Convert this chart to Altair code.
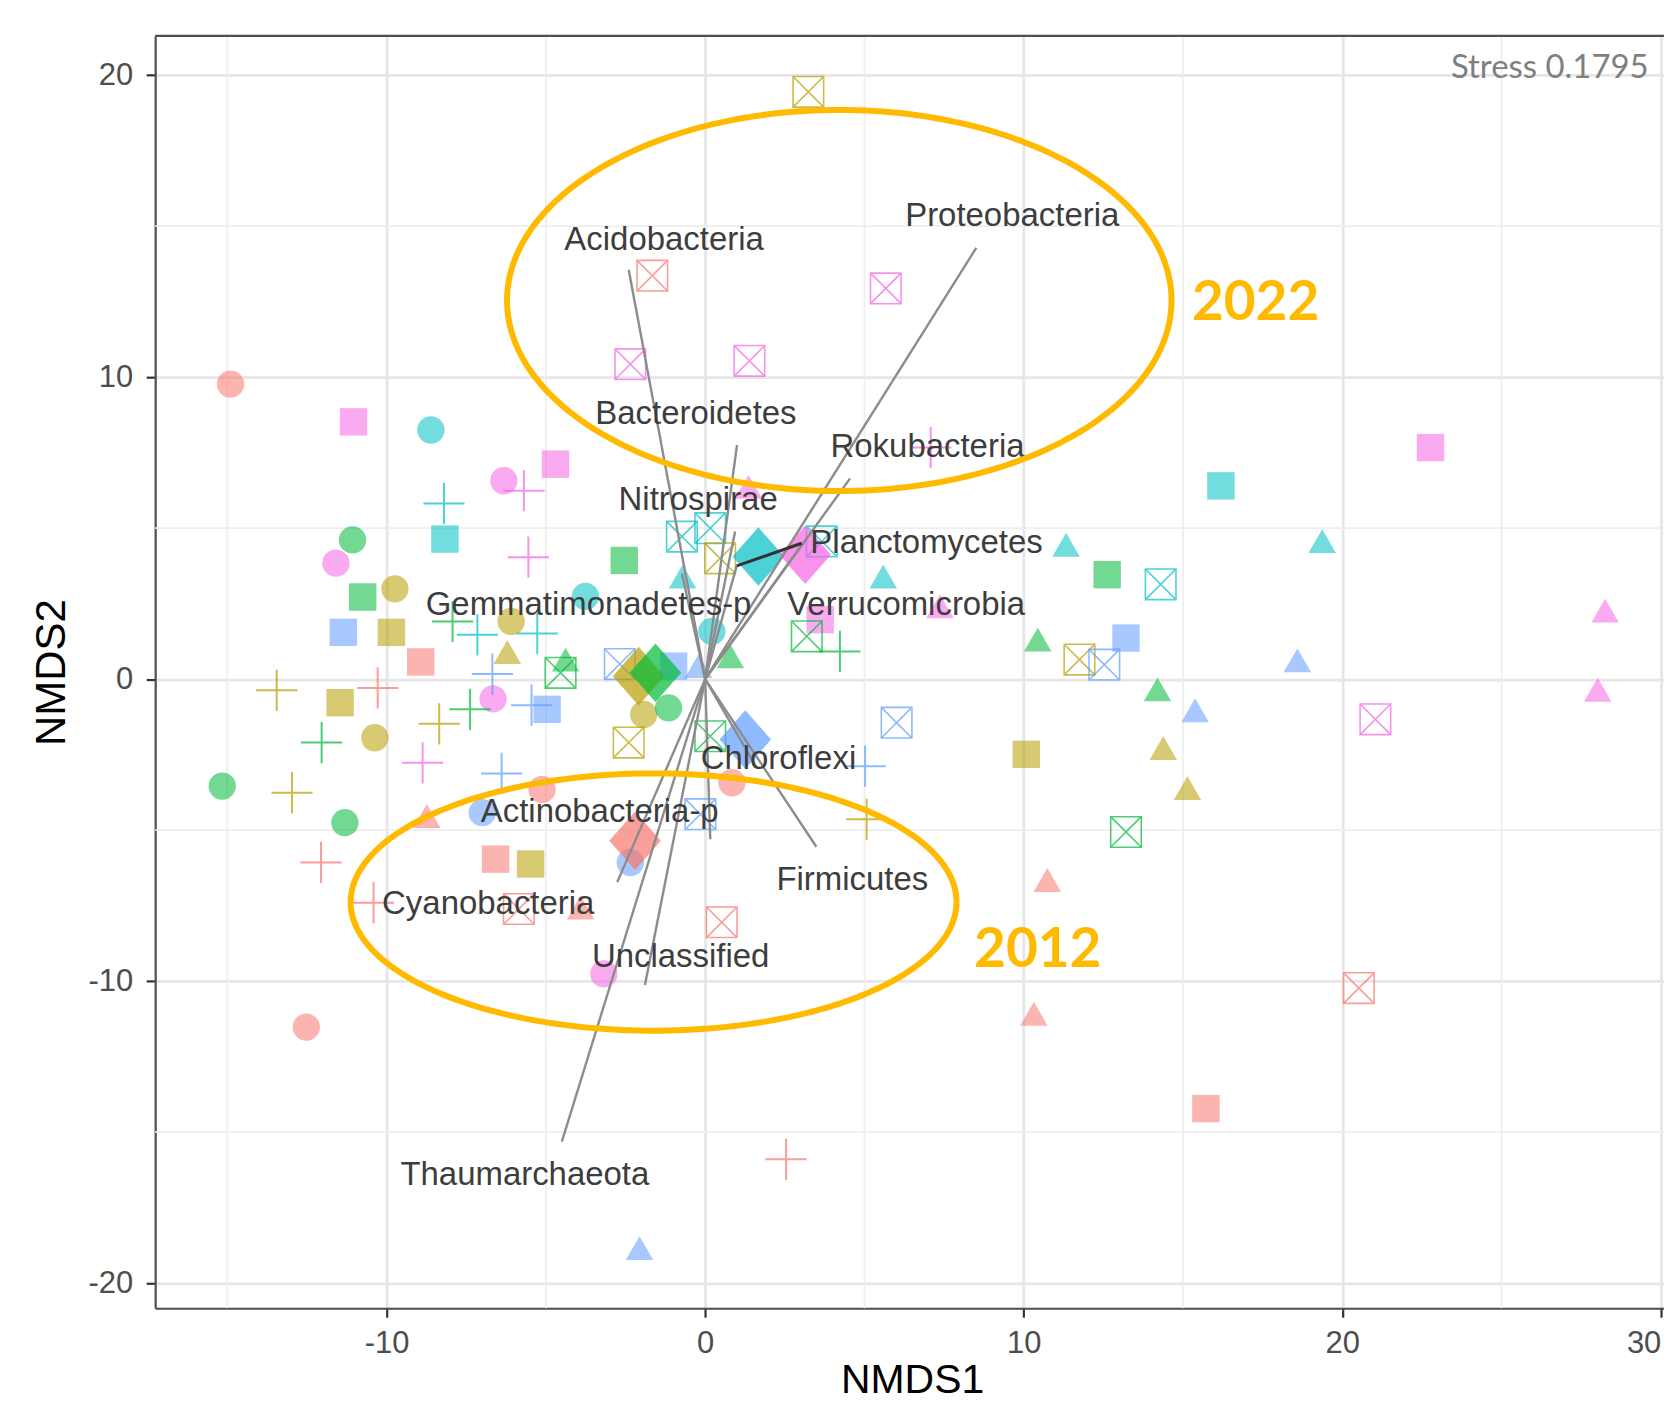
import numpy as np
import pandas as pd
import altair as alt

# ---------------- axes ----------------
X_DOMAIN = [-17.265, 30.10]
Y_DOMAIN = [-20.83, 21.30]
X_MAJOR = [-10, 0, 10, 20, 30]
Y_MAJOR = [-20, -10, 0, 10, 20]
X_MINOR = [-15, -5, 5, 15, 25]
Y_MINOR = [-15, -5, 5, 15]

# ---------------- groups (colour) ----------------
SITES = ["S1", "S2", "S3", "S4", "S5", "S6"]
SITE_COLORS = ["#F8766D", "#B79F00", "#00BA38", "#00BFC4", "#619CFF", "#F564E3"]

# ---------------- sample points by shape ----------------
CIRCLE_X = [-14.9, -8.61, -6.32, -11.07, -11.59, -9.74, -3.76, -6.09, -6.66, -10.37, -15.16,
            -5.12, -11.31, -7.0, -1.93, -1.15, 0.21, 0.84, -2.35, -3.18, -12.52]
CIRCLE_Y = [9.77, 8.25, 6.57, 4.61, 3.84, 2.99, 2.74, 1.91, -0.65, -1.94, -3.54,
            -3.65, -4.75, -4.42, -1.17, -0.95, 1.58, -3.43, -6.07, -9.76, -11.52]
CIRCLE_SITE = ["S1", "S4", "S6", "S3", "S6", "S2", "S4", "S2", "S6", "S2", "S3",
               "S1", "S3", "S5", "S2", "S3", "S4", "S1", "S5", "S6", "S1"]

SQUARE_X = [-11.04, -4.70, -8.17, -2.54, -10.75, -11.36, -9.85, -8.93, -11.46, -4.96,
            -6.58, -5.48, -0.99, 3.61, 12.62, 13.21, 10.08, 16.19, 22.77, 15.72]
SQUARE_Y = [8.52, 7.12, 4.64, 3.93, 2.72, 1.55, 1.55, 0.57, -0.78, -1.0,
            -5.96, -6.12, 0.43, 1.97, 3.46, 1.36, -2.49, 6.40, 7.67, -14.22]
SQUARE_SITE = ["S6", "S6", "S4", "S3", "S3", "S5", "S2", "S1", "S2", "S5",
               "S1", "S2", "S5", "S6", "S3", "S5", "S2", "S4", "S6", "S1"]

TRIANGLE_X = [-6.21, -4.38, -8.74, -3.91, -2.06, -0.71, 1.36, 5.59, 0.79, -0.21, 7.37, 11.33,
              10.44, 14.2, 14.38, 15.14, 15.38, 18.59, 19.37, 28.25, 28.02, 10.74, 10.32]
TRIANGLE_Y = [0.9, 0.65, -4.53, -7.56, -18.84, 3.40, 6.37, 3.40, 0.76, 0.43, 2.41, 4.45,
              1.31, -0.34, -2.28, -3.61, -1.03, 0.62, 4.57, 2.27, -0.35, -6.65, -11.08]
TRIANGLE_SITE = ["S2", "S3", "S1", "S1", "S5", "S4", "S6", "S4", "S3", "S5", "S6", "S4",
                 "S3", "S3", "S2", "S2", "S5", "S5", "S4", "S6", "S6", "S1", "S1"]

PLUS_X = [-8.20, -5.69, -5.55, -7.93, -7.15, -5.27, -6.68, -13.45, -10.28, -7.38, -5.45, -8.35,
          -12.04, -8.87, -6.39, -12.97, -12.06, -10.41, 7.08, 4.23, 5.02, 5.07, 2.54]
PLUS_Y = [5.82, 6.24, 4.04, 1.91, 1.47, 1.51, 0.17, -0.37, -0.29, -1.0, -0.86, -1.48,
          -2.1, -2.77, -3.12, -3.76, -6.07, -7.4, 7.67, 0.92, -2.88, -4.64, -15.9]
PLUS_SITE = ["S4", "S6", "S6", "S3", "S4", "S4", "S5", "S2", "S1", "S3", "S5", "S2",
             "S3", "S6", "S5", "S2", "S1", "S1", "S6", "S3", "S5", "S2", "S1"]

BOXX_X = [3.24, -1.66, 5.67, -2.35, 1.39, -0.73, 0.16, 0.47, 3.66, 3.19, 14.3, 11.75,
          12.53, -4.54, -2.68, -2.4, 0.16, 6.01, -0.15, 13.21, 21.04, -5.85, 0.52, 20.52]
BOXX_Y = [19.45, 13.36, 12.94, 10.43, 10.54, 4.72, 5.0, 4.0, 4.56, 1.42, 3.14, 0.65,
          0.48, 0.21, 0.5, -2.1, -1.89, -1.44, -4.47, -5.06, -1.33, -7.61, -8.05, -10.23]
BOXX_SITE = ["S2", "S1", "S6", "S6", "S6", "S4", "S4", "S2", "S4", "S3", "S4", "S2",
             "S5", "S3", "S5", "S2", "S3", "S5", "S5", "S3", "S6", "S1", "S1", "S1"]

# group centroids
CENTROID_X = [-2.2, -2.09, -1.56, 1.67, 1.26, 3.14]
CENTROID_Y = [-5.35, 0.1, 0.21, 4.06, -2.0, 4.12]
CENTROID_SITE = ["S1", "S2", "S3", "S4", "S5", "S6"]

# ---------------- fitted phyla vectors ----------------
VECTOR_NAMES = ["Acidobacteria", "Proteobacteria", "Bacteroidetes", "Rokubacteria", "Nitrospirae",
                "Planctomycetes", "Gemmatimonadetes-p", "Verrucomicrobia", "Chloroflexi",
                "Firmicutes", "Actinobacteria-p", "Cyanobacteria", "Unclassified", "Thaumarchaeota"]
VECTOR_X = [-2.40, 8.51, 1.00, 4.55, 0.94, 0.99, -0.73, 3.00, 1.60, 3.49, 0.16, -2.76, -1.89, -4.50]
VECTOR_Y = [13.56, 14.28, 7.75, 6.65, 4.89, 3.75, 3.50, 4.40, -2.90, -5.55, -5.30, -6.72, -10.13, -15.31]
LABEL_X = [-1.29, 9.64, -0.29, 6.98, -0.22, 6.95, -3.66, 6.31, 2.30, 4.62, -3.31, -6.81, -0.77, -5.66]
LABEL_Y = [14.54, 15.32, 8.77, 7.68, 5.93, 4.50, 2.46, 2.47, -2.64, -6.65, -4.40, -7.45, -9.21, -16.41]
LEADER_FROM = [0.99, 3.75]
LEADER_TO = [3.03, 4.50]

# ---------------- annotations ----------------
STRESS_TEXT = "Stress 0.1795"
STRESS_POS = [29.62, 19.91]
YEAR_TEXT = ["2022", "2012"]
YEAR_X = [17.28, 10.44]
YEAR_Y = [12.44, -8.97]
ELLIPSE_NAME = ["2022", "2012"]
ELLIPSE_CX = [4.21, -1.62]
ELLIPSE_CY = [12.54, -7.38]
ELLIPSE_RX = [10.43, 9.51]
ELLIPSE_RY = [6.31, 4.26]
GOLD = "#FFBA00"

# ---------------- data frames ----------------
def shape_df(shape, xs, ys, sites):
    return pd.DataFrame({"x": xs, "y": ys, "site": sites, "shape": shape})

filled = pd.concat([shape_df("circle", CIRCLE_X, CIRCLE_Y, CIRCLE_SITE),
                    shape_df("square", SQUARE_X, SQUARE_Y, SQUARE_SITE),
                    shape_df("triangle", TRIANGLE_X, TRIANGLE_Y, TRIANGLE_SITE)], ignore_index=True)
plus_df = shape_df("plus", PLUS_X, PLUS_Y, PLUS_SITE)
boxx_df = shape_df("boxx", BOXX_X, BOXX_Y, BOXX_SITE)
cent_df = shape_df("diamond", CENTROID_X, CENTROID_Y, CENTROID_SITE)

vec_df = pd.DataFrame({"name": VECTOR_NAMES, "x0": 0.0, "y0": 0.0, "x1": VECTOR_X, "y1": VECTOR_Y})
lab_df = pd.DataFrame({"name": VECTOR_NAMES, "x": LABEL_X, "y": LABEL_Y})
lead_df = pd.DataFrame({"x0": [LEADER_FROM[0]], "y0": [LEADER_FROM[1]],
                        "x1": [LEADER_TO[0]], "y1": [LEADER_TO[1]]})

t = np.linspace(0, 2 * np.pi, 241)
ell_rows = []
for n, cx, cy, rx, ry in zip(ELLIPSE_NAME, ELLIPSE_CX, ELLIPSE_CY, ELLIPSE_RX, ELLIPSE_RY):
    for i, tt in enumerate(t):
        ell_rows.append({"name": n, "i": i, "x": cx + rx * np.cos(tt), "y": cy + ry * np.sin(tt)})
ell_df = pd.DataFrame(ell_rows)
year_df = pd.DataFrame({"text": YEAR_TEXT, "x": YEAR_X, "y": YEAR_Y})
stress_df = pd.DataFrame({"text": [STRESS_TEXT], "x": [STRESS_POS[0]], "y": [STRESS_POS[1]]})
top_df = pd.DataFrame({"y": [Y_DOMAIN[1]]})
xminor_df = pd.DataFrame({"x": X_MINOR})
yminor_df = pd.DataFrame({"y": Y_MINOR})

# ---------------- scales & axes ----------------
xscale = alt.Scale(domain=X_DOMAIN, nice=False, zero=False)
yscale = alt.Scale(domain=Y_DOMAIN, nice=False, zero=False)
color = alt.Color("site:N", scale=alt.Scale(domain=SITES, range=SITE_COLORS), legend=None)

x_axis = alt.Axis(values=X_MAJOR, title="NMDS1", labelPadding=11, labelFlush=20,
                  labelExpr="toString(datum.value)",
                  titleX=758.5, titleY=84.5, titleBaseline="alphabetic", titleAlign="center",
                  titleAngle=0, titleFontSize=41)
y_axis = alt.Axis(values=Y_MAJOR, title="NMDS2", labelPadding=13.5, labelFlush=False,
                  labelExpr="toString(datum.value)",
                  titleX=-104, titleY=637.5, titleBaseline="middle", titleAlign="center",
                  titleAngle=270)

def X(field="x", axis=alt.Undefined):
    return alt.X(f"{field}:Q", scale=xscale, axis=axis)

def Y(field="y", axis=alt.Undefined):
    return alt.Y(f"{field}:Q", scale=yscale, axis=axis)

PLUS_PATH = "M -1 0 L 1 0 M 0 -1 L 0 1"
BOXX_PATH = "M -1 -1 L 1 -1 L 1 1 L -1 1 Z M -1 -1 L 1 1 M 1 -1 L -1 1"
DIAMOND_PATH = "M 0 -1 L 0.88 0 L 0 1 L -0.88 0 Z"

MINOR_GRID = "#EEEEEE"
PT_ALPHA = 0.55

# axis-carrying layers: minor grid lines
xminor_layer = alt.Chart(xminor_df).mark_rule(color=MINOR_GRID, strokeWidth=1.7).encode(
    x=X("x", x_axis))
yminor_layer = alt.Chart(yminor_df).mark_rule(color=MINOR_GRID, strokeWidth=1.7).encode(
    y=Y("y", y_axis))

filled_layer = alt.Chart(filled).mark_point(filled=True, opacity=PT_ALPHA, strokeWidth=0).encode(
    x=X(), y=Y(), color=color,
    shape=alt.Shape("shape:N", scale=alt.Scale(domain=["circle", "square", "triangle"],
                                                range=["circle", "square", "triangle-up"]), legend=None),
    size=alt.Size("shape:N", scale=alt.Scale(domain=["circle", "square", "triangle"],
                                              range=[750, 760, 1330]), legend=None),
)
plus_layer = alt.Chart(plus_df).mark_point(shape=PLUS_PATH, filled=False, size=1706,
                                           strokeWidth=2, opacity=0.7).encode(
    x=X(), y=Y(), color=color)
boxx_layer = alt.Chart(boxx_df).mark_point(shape=BOXX_PATH, filled=False, size=940,
                                           strokeWidth=1.6, opacity=0.7).encode(
    x=X(), y=Y(), color=color)
cent_layer = alt.Chart(cent_df).mark_point(shape=DIAMOND_PATH, filled=True, size=3446,
                                           opacity=0.7, strokeWidth=0).encode(
    x=X(), y=Y(), color=color)

vec_layer = alt.Chart(vec_df).mark_rule(color="#8C8C8C", strokeWidth=2.4).encode(
    x=X("x0"), y=Y("y0"), x2="x1:Q", y2="y1:Q")
lead_layer = alt.Chart(lead_df).mark_rule(color="#333333", strokeWidth=3).encode(
    x=X("x0"), y=Y("y0"), x2="x1:Q", y2="y1:Q")
lab_layer = alt.Chart(lab_df).mark_text(font="Liberation Sans", fontSize=33, color="#3D3D3D",
                                        align="center", baseline="middle").encode(
    x=X(), y=Y(), text="name:N")

ell_layer = alt.Chart(ell_df).mark_line(color=GOLD, strokeWidth=6).encode(
    x=X(), y=Y(), detail="name:N", order="i:Q")
year_layer = alt.Chart(year_df).mark_text(font="Lato", fontWeight="bold", fontSize=55, color=GOLD,
                                          align="center", baseline="middle").encode(
    x=X(), y=Y(), text="text:N")
stress_layer = alt.Chart(stress_df).mark_text(font="Lato", fontSize=33, color="#7F7F7F",
                                              align="right", baseline="alphabetic").encode(
    x=X(), y=Y(), text="text:N")
top_layer = alt.Chart(top_df).mark_rule(color="#4D4D4D", strokeWidth=2.2).encode(y=Y())

chart = alt.layer(
    xminor_layer, yminor_layer,
    filled_layer, plus_layer, boxx_layer, cent_layer,
    vec_layer, lead_layer, lab_layer,
    ell_layer, year_layer, stress_layer, top_layer,
).properties(
    width=1512, height=1275,
    padding={"left": 147.5, "top": 26.5, "right": 0, "bottom": 93},
    autosize=alt.AutoSizeParams(type="none"),
    background="white",
).configure_view(
    strokeWidth=0
).configure_axis(
    grid=True, gridColor="#E6E6E6", gridWidth=2.8,
    tickSize=9, tickWidth=2.2, tickColor="#333333",
    domain=True, domainColor="#4D4D4D", domainWidth=2.2,
    labelFont="Liberation Sans", labelFontSize=31, labelColor="#4D4D4D",
    titleFont="Liberation Sans", titleFontSize=42, titleColor="#000000", titleFontWeight="normal",
)

chart.save("out.html", embed_options={"renderer": "svg", "actions": False})
